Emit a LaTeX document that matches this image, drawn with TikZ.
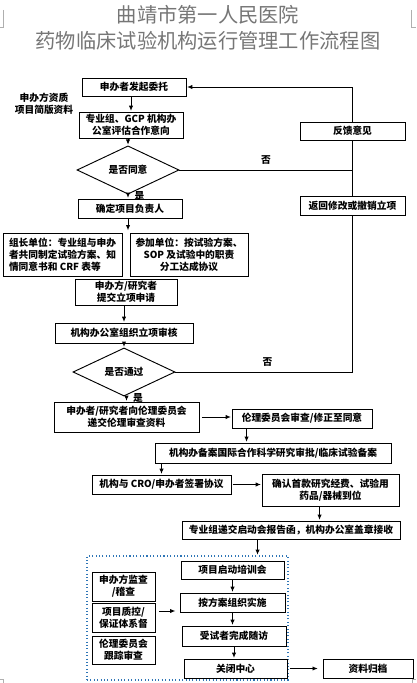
\documentclass[tikz,border=0pt]{standalone}
\usepackage{fontspec}
\setmainfont{Noto Sans CJK SC}
\usetikzlibrary{arrows.meta,positioning,shapes.geometric,calc}
\definecolor{titleGray}{RGB}{118,118,118}
\definecolor{stageBlue}{RGB}{46,117,182}
\definecolor{cropGray}{RGB}{175,175,175}

\begin{document}
\begin{tikzpicture}[
  x=0.03cm,
  y=-0.03cm,
  box/.style={
    draw,
    line width=0.8pt,
    inner sep=0pt,
    align=center,
    font=\fontsize{8.3}{10.4}\selectfont\bfseries
  },
  sz/.style 2 args={minimum width=#1*0.03cm,minimum height=#2*0.03cm},
  decision/.style={box,diamond},
  answer/.style={font=\fontsize{8.3}{10}\selectfont\bfseries},
  heading/.style={font=\fontsize{17.3}{20}\selectfont,text=titleGray},
  stagebox/.style={draw=stageBlue,dotted,line width=0.9pt},
  arrow/.style={-{Latex[length=1.6mm,width=1.3mm]},line width=0.8pt,shorten >=0.5pt},
  link/.style={line width=0.8pt},
  cropline/.style={draw=cropGray,line width=0.6pt}
]
  \useasboundingbox (0,0) rectangle (416,683);

  \node[heading] (title1) at (208,15) {曲靖市第一人民医院};
  \node[heading] (title2) at (208,41) {药物临床试验机构运行管理工作流程图};

  \node[answer,align=center] (ziliao) at (44,103.5) {申办方资质\\项目简版资料};

  \node[box,sz={104}{18}] (weituo) at (134,87) {申办者发起委托};
  \node[box,sz={104}{26}] (pinggu) at (131,125) {专业组、GCP 机构办\\公室评估合作意向};
  \node[decision,sz={102}{32}] (tongyi) at (128,170) {是否同意};
  \node[box,sz={104}{19}] (fuzeren) at (130,208.5) {确定项目负责人};
  \node[box,sz={119}{43},align=left] (zuzhang) at (62.5,254.5) {组长单位：专业组与申办\\者共同制定试验方案、知\\情同意书和 CRF 表等};
  \node[box,sz={118}{43}] (canjia) at (189,254.5) {参加单位：按试验方案、\\SOP 及试验中的职责\\分工达成协议};
  \node[box,sz={102}{26}] (lixiang) at (126,292) {申办方/研究者\\提交立项申请};
  \node[box,sz={138}{20}] (shenhe) at (124,333) {机构办公室组织立项审核};
  \node[decision,sz={102}{34}] (tongguo) at (124,372) {是否通过};
  \node[box,sz={145}{30}] (dijiao) at (126.5,417) {申办者/研究者向伦理委员会\\递交伦理审查资料};
  \node[box,sz={140}{19}] (lunli) at (302,418.5) {伦理委员会审查/修正至同意};
  \node[box,sz={236}{20}] (beian) at (273,453) {机构办备案国际合作科学研究审批/临床试验备案};
  \node[box,sz={139}{19}] (xieyi) at (161.5,484.5) {机构与 CRO/申办者签署协议};
  \node[box,sz={137}{32}] (jingfei) at (330.5,490) {确认首款研究经费、试验用\\药品/器械到位};
  \node[box,sz={218}{18}] (qidong) at (291,530) {专业组递交启动会报告函，机构办公室盖章接收};

  \node[stagebox,sz={201}{124}] (stage) at (187.5,618) {};
  \node[box,sz={103}{18}] (peixun) at (232.5,570) {项目启动培训会};
  \node[box,sz={105}{19}] (shishi) at (232.5,602.5) {按方案组织实施};
  \node[box,sz={104}{20}] (suifang) at (234,636) {受试者完成随访};
  \node[box,sz={103}{19}] (guanbi) at (235.5,668.5) {关闭中心};
  \node[box,sz={63}{29}] (jiancha) at (123.5,586.5) {申办方监查\\/稽查};
  \node[box,sz={63}{29}] (zhikong) at (123.5,617.5) {项目质控/\\保证体系督};
  \node[box,sz={63}{28}] (genzong) at (123.5,650) {伦理委员会\\跟踪审查};
  \node[box,sz={90}{19}] (guidang) at (368,668.5) {资料归档};

  \node[box,sz={105}{18}] (fankui) at (352.5,131) {反馈意见};
  \node[box,sz={105}{19}] (fanhui) at (352.5,205.5) {返回修改或撤销立项};

  \coordinate (split) at (128,231);
  \coordinate (inS) at (159,611);
  \coordinate (inE) at (176,611);

  \draw[arrow] (weituo.south -| pinggu.north) -- (pinggu.north);
  \draw[arrow] (pinggu.south -| tongyi.north) -- (tongyi.north);
  \draw[arrow] (tongyi.south) -- (tongyi.south |- fuzeren.north) node[answer,pos=0.4,right=2pt] {是};
  \draw[arrow] (fuzeren.south -| split) -- (split);
  \draw[arrow] (lixiang.south -| shenhe.north) -- (shenhe.north);
  \draw[arrow] (shenhe.south -| tongguo.north) -- (tongguo.north);
  \draw[arrow] (tongguo.south -| dijiao.north) -- (dijiao.north) node[answer,pos=0.35,right=2pt] {是};
  \draw[arrow,shorten <=2pt] (dijiao.east) -- (dijiao.east -| lunli.west);
  \draw[arrow] ($(lunli.south west)+(15,0)$) coordinate (t1) -- (t1 |- beian.north);
  \draw[arrow] (beian.south -| xieyi.north) -- (xieyi.north);
  \draw[arrow,shorten <=1pt] (xieyi.east) -- (xieyi.east -| jingfei.west);
  \draw[arrow] ($(jingfei.south west)+(58,0)$) coordinate (t2) -- (t2 |- qidong.north);
  \draw[arrow] ($(qidong.south west)+(76,0)$) coordinate (t3) -- (t3 |- stage.north);
  \draw[arrow] (peixun.south) -- (peixun.south |- shishi.north);
  \draw[arrow] (shishi.south) -- (shishi.south |- suifang.north);
  \draw[arrow] (suifang.south) -- (suifang.south |- guanbi.north);
  \draw[arrow,shorten <=2pt,shorten >=4pt] (guanbi.east) -- (guidang.west);
  \draw[arrow] (inS) -- (inE);

  \draw[link] (tongyi.east) -- (tongyi.east -| fankui.south) node[answer,pos=0.5,above=1pt] {否};
  \draw[link] (tongguo.east) -- (tongguo.east -| fanhui.south) node[answer,pos=0.52,above=1pt] {否} -- (fanhui.south);
  \draw[link] (fanhui.north) -- (fankui.south);
  \draw[arrow] (fankui.north) |- (weituo.east);

  \draw[cropline] (3.5,10) -- (3.5,27) -- (0,27);
  \draw[cropline] (411,10) -- (411,27) -- (416,27);
  \draw[cropline] (0,679) -- (3.5,679) -- (3.5,683);
  \draw[cropline] (416,679) -- (412,679) -- (412,683);
\end{tikzpicture}
\end{document}
